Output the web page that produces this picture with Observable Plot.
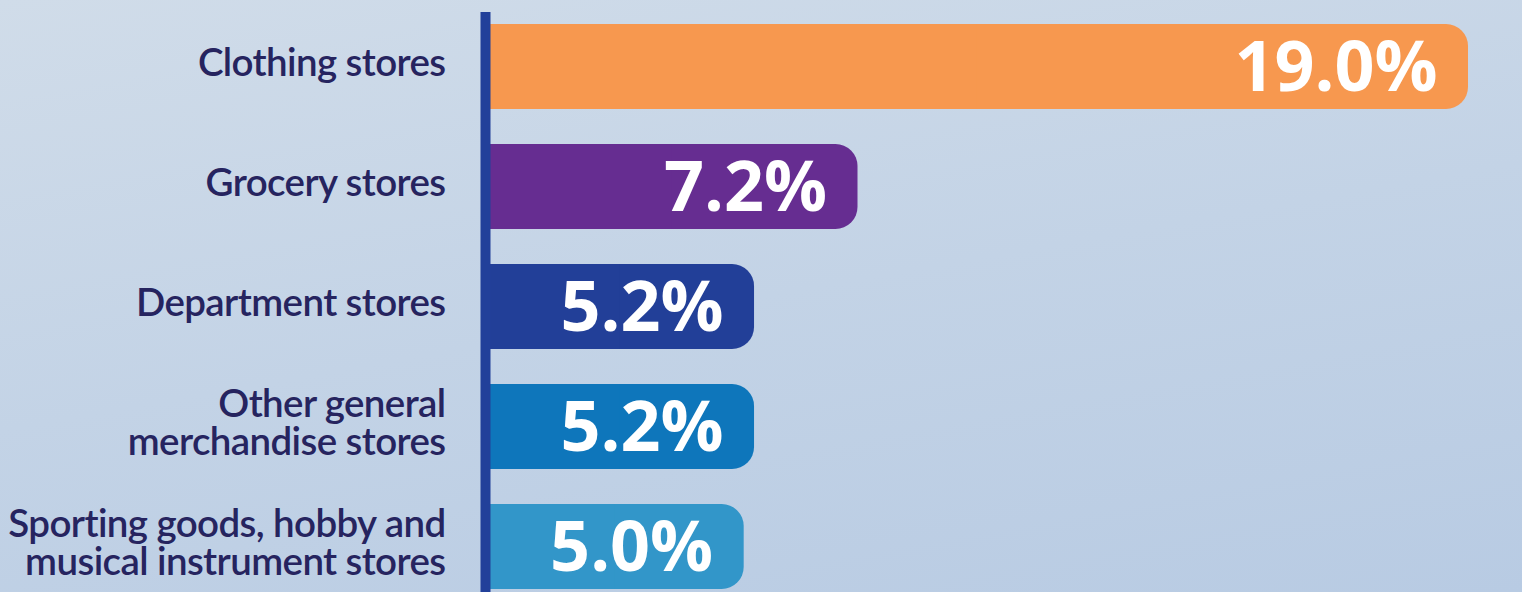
<!DOCTYPE html>
<html>
<head>
<meta charset="utf-8">
<script src="https://cdn.jsdelivr.net/npm/d3@7"></script>
<script src="https://cdn.jsdelivr.net/npm/@observablehq/plot@0.6"></script>
<style>
  html, body { margin: 0; padding: 0; }
  body {
    width: 1522px; height: 592px; overflow: hidden;
    background: linear-gradient(170deg, #d0dce9 0%, #c3d3e6 50%, #b8cbe3 100%);
  }
  #chart svg { display: block; background: none; }
  #chart g.cat-label text { letter-spacing: -0.6px; }
</style>
</head>
<body>
<div id="chart"></div>
<script>
const categories = [
  "Clothing stores",
  "Grocery stores",
  "Department stores",
  "Other general\nmerchandise stores",
  "Sporting goods, hobby and\nmusical instrument stores"
];
const values = [19.0, 7.2, 5.2, 5.2, 5.0];
const colors = ["#f7984f", "#662d91", "#223f98", "#0e76bb", "#3296c9"];

const data = categories.map((c, i) => ({category: c, value: values[i], color: colors[i]}));

const plot = Plot.plot({
  width: 1522,
  height: 592,
  marginLeft: 485,
  marginRight: 54,
  marginTop: 12,
  marginBottom: 0,
  style: {background: "none", overflow: "visible"},
  x: {domain: [0, 19], axis: null},
  y: {domain: categories, range: [6.6, 606.6], paddingInner: 0.29, paddingOuter: 0.145, axis: null},
  marks: [
    Plot.barX(data, {y: "category", x: "value", fill: "color", rx: 22, ry: 22}),
    Plot.barX(data, {y: "category", x: d => d.value / 2, fill: "color"}),
    Plot.ruleX([0], {stroke: "#22409a", strokeWidth: 10}),
    Plot.text(data, {
      y: "category", x: 0, text: "category", textAnchor: "end", dx: -40, dy: -3,
      lineHeight: 0.97, fontSize: 38.5, fontWeight: 600, fill: "#26245f",
      fontFamily: "Lato, 'Open Sans', sans-serif", className: "cat-label"
    }),
    Plot.text(data, {
      y: "category", x: "value", text: d => d.value.toFixed(1) + "%", textAnchor: "end", dx: -31, dy: 2,
      fontSize: 70, fontWeight: 700, fill: "white",
      fontFamily: "'Open Sans', Lato, sans-serif"
    })
  ]
});
document.getElementById("chart").appendChild(plot);
</script>
</body>
</html>
